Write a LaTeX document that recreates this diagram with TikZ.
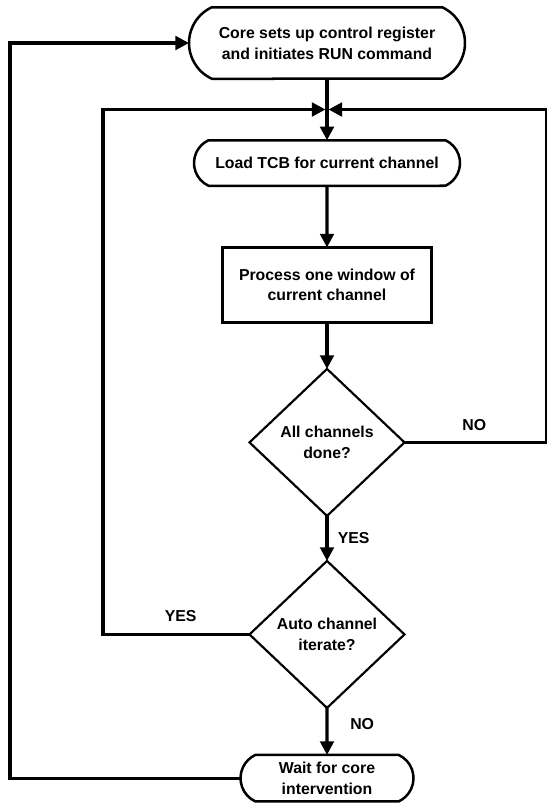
\documentclass[tikz,border=0pt]{standalone}
\usepackage{fontspec}
\setmainfont{Liberation Sans}
\usetikzlibrary{positioning,shapes.misc,shapes.geometric,arrows.meta,calc}
\tikzset{
  termbox/.style={draw, rounded rectangle, rounded rectangle arc length=130,
    line width=1.5pt, align=center, inner sep=0pt, outer sep=0pt},
  procbox/.style={draw, rectangle, line width=1.9pt, align=center, inner sep=0pt, outer sep=0pt},
  decbox/.style={draw, diamond, line width=1.3pt, align=center, inner sep=0pt, outer sep=0pt,
    minimum width=93pt, minimum height=88.2pt},
  flow/.style={-{Triangle[length=8.2pt, width=8.2pt]}, line width=1.9pt},
  flowlab/.style={inner sep=2pt},
}

\begin{document}
\begin{tikzpicture}[font=\fontsize{9.5}{12.5}\selectfont\bfseries]
\useasboundingbox (0,0) rectangle (328.2pt,-481.8pt);
% start and main column
\node[termbox, minimum width=165.6pt, minimum height=42.9pt] (core) at (196.2pt,-25.8pt) {Core sets up control register\\and initiates RUN command};
\node[termbox, minimum width=159.6pt, minimum height=27.3pt, below=36.9pt of core] (load) {Load TCB for current channel};
\node[procbox, minimum width=125.4pt, minimum height=45pt, below=37pt of load] (proc) {Process one window of\\current channel};
% the two decisions
\node[decbox, below=27.9pt of proc] (alldone) {All channels\\done?};
\node[decbox, below=27pt of alldone] (autoit) {Auto channel\\iterate?};
\node[termbox, minimum width=103.8pt, minimum height=27.9pt, below=28.2pt of autoit] (wait) {Wait for core\\intervention};
% loop rails
\coordinate (merge) at ($(core.south)!0.5!(load.north)$);
\coordinate (outerx) at (6pt,0);
\coordinate (innerx) at (61.8pt,0);
\coordinate (rightx) at (328.2pt,0);
% flows
\draw[flow] (core.south) -- (load.north);
\draw[flow] (load) -- (proc);
\draw[flow] (proc) -- (alldone);
\draw[flow] (alldone) -- node[flowlab, right, xshift=3.5pt] {YES} (autoit);
\draw[flow] (autoit) -- node[flowlab, right, pos=0.35, xshift=11pt] {NO} (wait);
\draw[flow, shorten >=0.9pt] (alldone.east) -- node[flowlab, above, pos=0.49, yshift=4pt] {NO} (alldone.east -| rightx) |- (merge);
\draw[flow, shorten >=0.9pt] (autoit.west) -- node[flowlab, above, pos=0.47, yshift=5pt] {YES} (autoit.west -| innerx) |- (merge);
\draw[flow] (wait.west) -- (wait.west -| outerx) |- (core.west);
\end{tikzpicture}
\end{document}
